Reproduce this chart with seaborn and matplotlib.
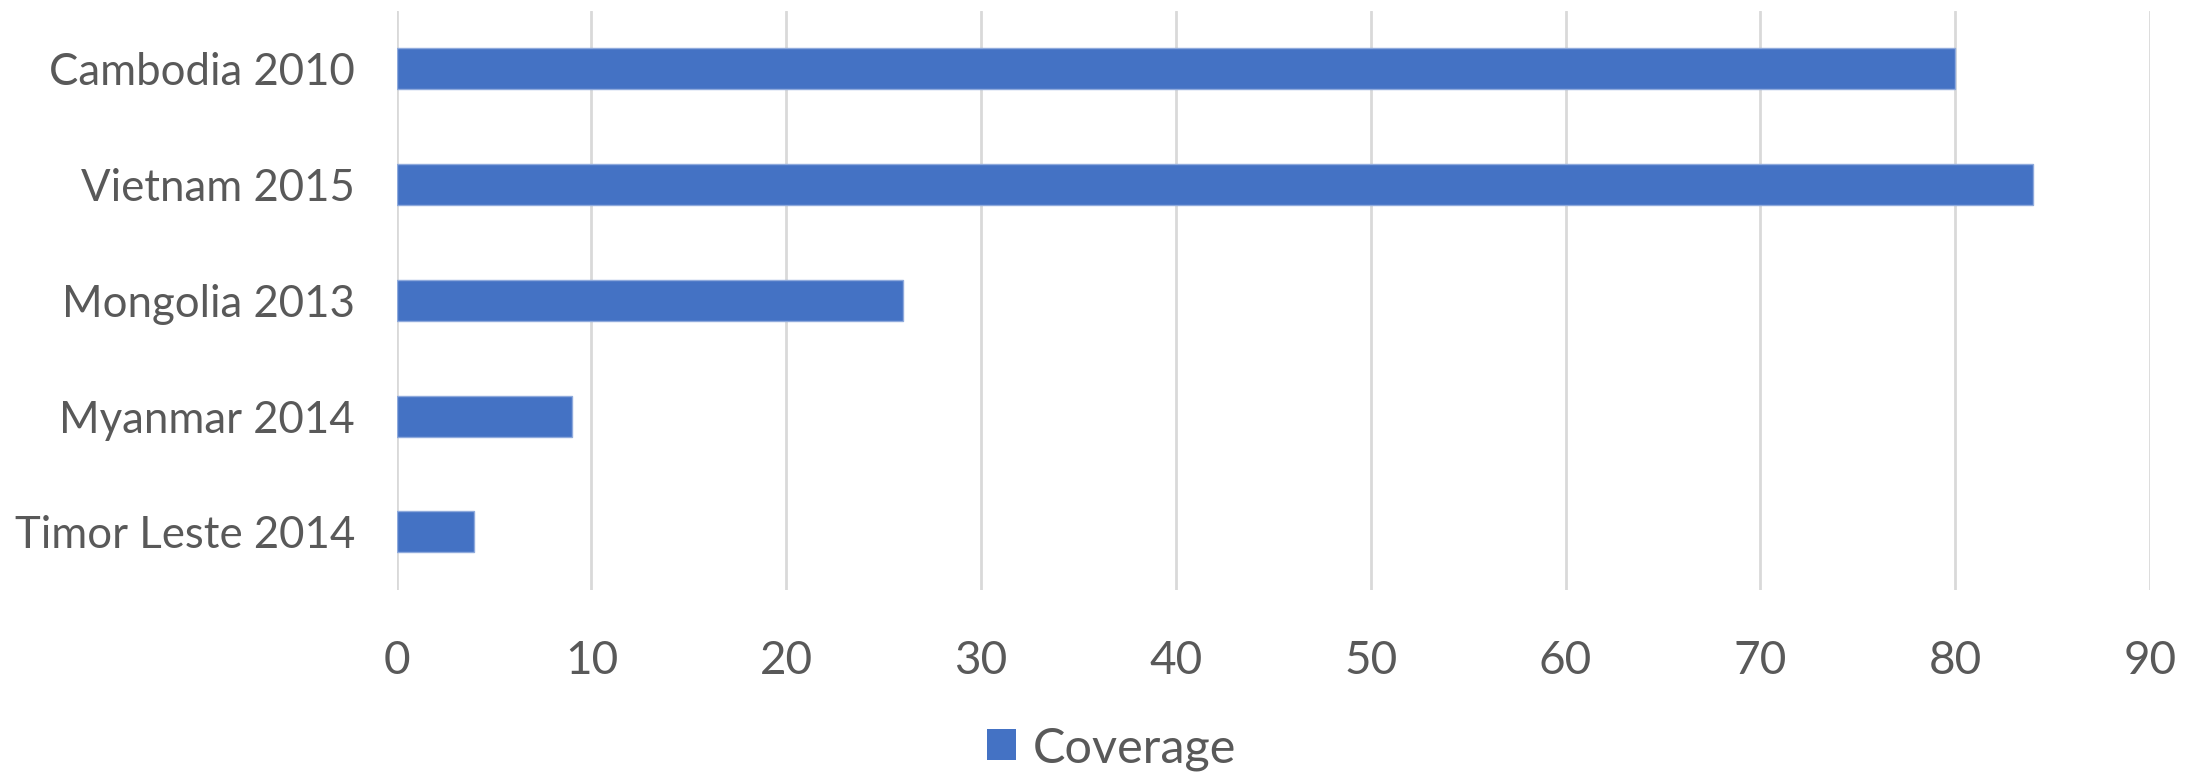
import matplotlib
matplotlib.use("Agg")
import matplotlib.pyplot as plt
import seaborn as sns
import pandas as pd
from matplotlib.patches import Patch

countries = ["Cambodia 2010", "Vietnam 2015", "Mongolia 2013", "Myanmar 2014", "Timor Leste 2014"]
coverage = [80, 84, 26, 9, 4]
x_ticks = [0, 10, 20, 30, 40, 50, 60, 70, 80, 90]
series_name = "Coverage"

bar_color = "#4472C4"
text_color = "#595959"
grid_color = "#D9D9D9"

sns.set_theme(style="white")
plt.rcParams["font.family"] = ["Lato", "DejaVu Sans"]

df = pd.DataFrame({"Country": countries, series_name: coverage})

fig = plt.figure(figsize=(22.03, 7.73), dpi=100)
ax = fig.add_axes([0.180, 0.237, 0.796, 0.749])

sns.barplot(data=df, x=series_name, y="Country", orient="h", color=bar_color,
            saturation=1, width=0.355, edgecolor="#8FAADC", linewidth=1, ax=ax)

ax.set_xlim(0, 90)
ax.set_xticks(x_ticks)
ax.set_xticklabels([str(t) for t in x_ticks])
ax.xaxis.grid(True, color=grid_color, linewidth=2)
ax.yaxis.grid(False)
ax.set_axisbelow(True)
for s in ax.spines.values():
    s.set_visible(False)
ax.set_xlabel("")
ax.set_ylabel("")
ax.tick_params(axis="both", length=0, colors=text_color)
ax.tick_params(axis="x", pad=36, labelsize=33)
ax.tick_params(axis="y", pad=30, labelsize=31.5)

handle = Patch(facecolor=bar_color, edgecolor="none")
fig.legend([handle], [series_name], loc="center", bbox_to_anchor=(0.5045, 0.032),
           frameon=False, fontsize=35, labelcolor=text_color,
           handlelength=0.6, handleheight=0.6, handletextpad=0.35)

fig.savefig("out.png", dpi=100, facecolor="white")
